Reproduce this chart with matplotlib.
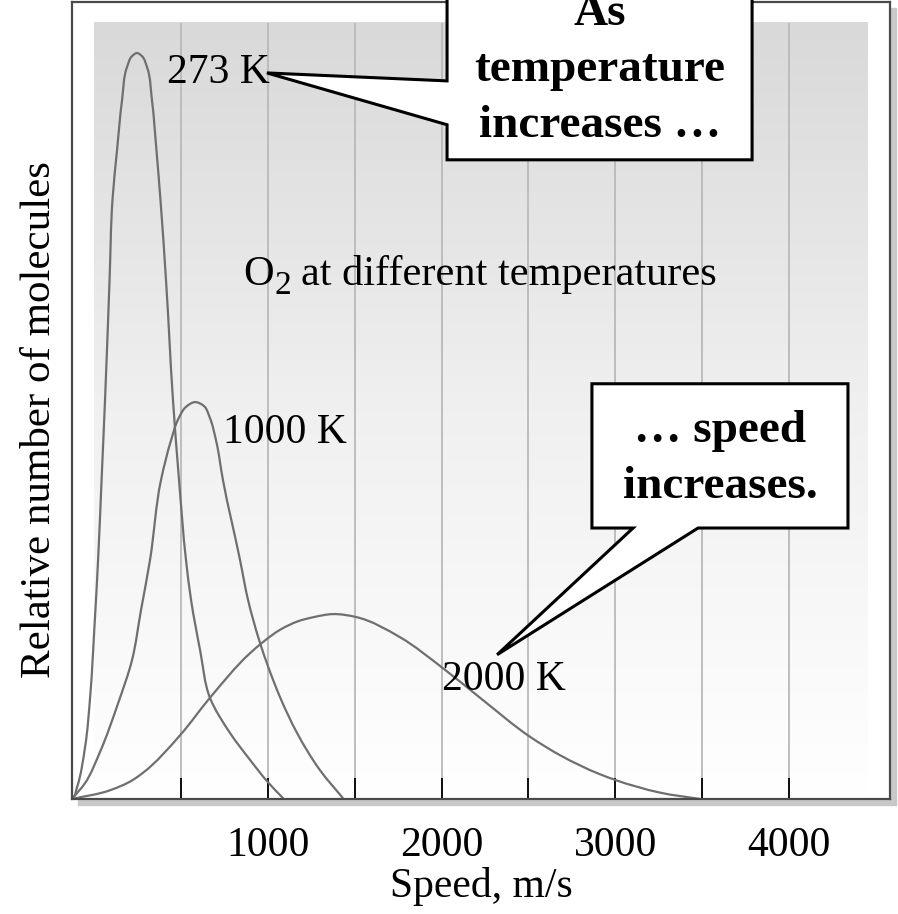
import numpy as np
import matplotlib.pyplot as plt
from matplotlib.patches import Polygon, Rectangle, PathPatch
from matplotlib.path import Path
from matplotlib.colors import LinearSegmentedColormap

plt.rcParams['font.family'] = ['Liberation Serif', 'DejaVu Serif']

#%% curves (speed in m/s, relative number of molecules)
speed_273 = [-127, -122, -98, -52, -21, 2, 23, 43, 63, 89, 106, 132, 161, 189, 218, 247,
             276, 305, 333, 359, 382, 414, 454, 489, 529, 558, 610, 667, 782, 898, 1001, 1088]
count_273 = [0, 0.1, 1.5, 6.5, 13.3, 21.6, 30.0, 40.0, 50.1, 65.1, 75.2, 81.4, 87.7, 91.8, 93.2, 93.6,
             93.2, 91.8, 87.7, 81.4, 75.2, 65.1, 50.1, 40.0, 30.0, 25.0, 18.7, 12.7, 8.3, 4.9, 2.1, 0.1]

speed_1000 = [-127, -52, 34, 138, 218, 270, 322, 385, 443, 483, 529, 581, 633, 667, 702, 742,
              840, 886, 955, 1002, 1070, 1168, 1301, 1433]
count_1000 = [0, 2.0, 5.9, 12.0, 17.4, 23.7, 30.0, 40.0, 45.0, 47.6, 49.2, 49.8, 49.3, 47.8, 45.0, 40.0,
              30.0, 25.0, 19.6, 16.6, 12.8, 8.3, 3.6, 0.1]

speed_2000 = [-127, 92, 224, 282, 495, 667, 898, 967, 1076, 1174, 1260, 1375, 1514, 1761, 2009, 2239,
              2510, 2682, 2913, 2999, 3258, 3488]
count_2000 = [0, 1.1, 2.4, 3.3, 8.0, 12.7, 18.3, 19.6, 21.3, 22.3, 22.8, 23.2, 22.8, 20.3, 16.4, 12.4,
              7.8, 5.5, 3.1, 2.4, 0.8, 0]

curve_labels = ['273 K', '1000 K', '2000 K']
tick_values = [500, 1000, 1500, 2000, 2500, 3000, 3500, 4000]
tick_labels = ['', '1000', '', '2000', '', '3000', '', '4000']

#%% figure
W, H = 898, 914
fig = plt.figure(figsize=(W / 100, H / 100), dpi=100)

# drop shadow behind the frame
fig.patches.append(Rectangle((78 / W, (H - 805) / H), 818 / W, 797 / H,
                             transform=fig.transFigure, color='#c8c8c8', zorder=-1))

ax = fig.add_axes([72 / W, (H - 799) / H, 818 / W, 797 / H])
ax.set_facecolor('white')
ax.set_xlim(-127.2, 4582)
ax.set_ylim(0, 100)


def smooth_path(xs, ys):
    # smooth pen line through the read points, built in screen space
    p = ax.transData.transform(np.column_stack([xs, ys]))
    d = np.diff(p, axis=0)
    dt = np.maximum(np.hypot(d[:, 0], d[:, 1]), 1e-6)
    s = d / dt[:, None]
    m = np.zeros_like(p)
    m[0], m[-1] = s[0], s[-1]
    for i in range(1, len(p) - 1):
        m[i] = (s[i - 1] * dt[i] + s[i] * dt[i - 1]) / (dt[i - 1] + dt[i])
    verts, codes = [p[0]], [Path.MOVETO]
    for i in range(len(p) - 1):
        verts += [p[i] + m[i] * dt[i] / 3, p[i + 1] - m[i + 1] * dt[i] / 3, p[i + 1]]
        codes += [Path.CURVE4] * 3
    return Path(ax.transData.inverted().transform(np.array(verts)), codes)


# shaded background fading to white at the bottom
bg = LinearSegmentedColormap.from_list('bg', ['white', '#f0f0f0', '#d9d9d9'])
ax.imshow(np.linspace(0, 1, 256).reshape(-1, 1), extent=(0, 4455, 0, 97.4), origin='lower',
          cmap=bg, aspect='auto', zorder=0)
ax.vlines(tick_values, 0, 97.4, colors='#b9b9b9', lw=1.3, zorder=1)
ax.set_xlim(-127.2, 4582)
ax.set_ylim(0, 100)

for xs, ys in [(speed_273, count_273), (speed_1000, count_1000), (speed_2000, count_2000)]:
    ax.add_patch(PathPatch(smooth_path(xs, ys), fill=False, edgecolor='#6f6f6f', lw=1.6, zorder=2))

ax.set_xticks(tick_values, tick_labels)
ax.set_yticks([])
ax.tick_params(axis='x', direction='in', length=15, width=1.3, color='black', pad=20, labelsize=30)
for sp in ax.spines.values():
    sp.set_color('#4a4a4a')
    sp.set_linewidth(1.6)

fig.text(481 / W, (H - 897) / H, 'Speed, m/s', ha='center', va='baseline', fontsize=30)
fig.text(40 / W, (H - 420) / H, 'Relative number of molecules', rotation=90,
         ha='center', va='center', fontsize=31)

# curve labels
ax.text(420, 89.8, curve_labels[0], fontsize=30, va='baseline', zorder=3)
ax.text(742, 44.7, curve_labels[1], fontsize=30, va='baseline', zorder=3)
ax.text(2003, 13.7, curve_labels[2], fontsize=30, va='baseline', zorder=3)

# O2 with a larger, lower subscript than mathtext gives
o2 = dict(xy=(858, 64.5), xycoords='data', textcoords='offset pixels', va='baseline', zorder=3)
ax.annotate('O', xytext=(0, 0), fontsize=30.5, **o2)
ax.annotate('2', xytext=(31, -9), fontsize=24, **o2)
ax.annotate('at different temperatures', xytext=(58, 0), fontsize=30.5, **o2)

#%% callouts
box1_x = [2032, 2032, 995, 2032, 2032, 3788, 3788]
box1_y = [106, 90.1, 91.1, 84.6, 80.2, 80.2, 106]
box2_x = [2866, 4340, 4340, 3477, 2320, 3103, 2866]
box2_y = [52.1, 52.1, 34.0, 34.0, 18.1, 34.0, 34.0]
for bx, by in [(box1_x, box1_y), (box2_x, box2_y)]:
    ax.add_patch(Polygon(list(zip(bx, by)), closed=True, facecolor='white', edgecolor='black',
                         lw=2.2, joinstyle='miter', clip_on=False, zorder=4))

bold = dict(fontsize=34, fontweight='bold', ha='center', va='baseline', zorder=5, clip_on=False)
ax.text(2912, 97.1, 'As', **bold)
ax.text(2912, 90.1, 'temperature', **bold)
ax.text(2912, 83.1, 'increases \u2026', **bold)
ax.text(3603, 44.8, '\u2026 speed', **bold)
ax.text(3603, 37.8, 'increases.', **bold)

plt.savefig('out.png', dpi=100)
